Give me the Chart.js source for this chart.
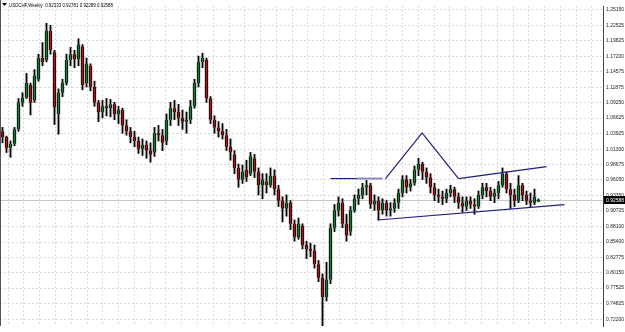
<!DOCTYPE html>
<html><head><meta charset="utf-8">
<script src="https://cdn.jsdelivr.net/npm/chart.js@4.4.1/dist/chart.umd.min.js"></script>
<style>html,body{margin:0;padding:0;background:#fff;overflow:hidden}canvas{display:block}</style>
</head><body>
<canvas id="c" width="625" height="332"></canvas>
<script>
const symbolTitle = 'USDCHF,Weekly';
const lastQuote = [0.92333, 0.92781, 0.92289, 0.92588];
const priceTicks = [1.25150,1.22525,1.19825,1.17200,1.14575,1.11875,1.09250,1.06625,1.03925,1.01300,0.98675,0.96050,0.93350,0.90725,0.88100,0.85400,0.82775,0.80150,0.77525,0.74825,0.72200];
const openP = [
1.0436,1.0337,1.0156,1.0222,1.0469,1.0931,1.1014,1.1228,1.0964,1.1327,
1.1690,1.1657,1.2152,1.1789,1.0733,1.1096,1.1261,1.1657,1.1756,1.1674,
1.1888,1.1261,1.1558,1.1195,1.0931,1.0766,1.0865,1.0832,1.0898,1.0733,
1.0799,1.0535,1.0436,1.0337,1.0271,1.0139,1.0205,1.0106,1.0073,1.0403,
1.0370,1.0271,1.0634,1.0832,1.0766,1.0667,1.0601,1.0634,1.0865,1.1261,
1.1624,1.1657,1.0997,1.0634,1.0502,1.0436,1.0370,1.0172,1.0040,0.9809,
0.9611,0.9776,0.9710,0.9974,0.9743,0.9512,0.9578,0.9512,0.9677,0.9446,
0.9248,0.9116,0.9215,0.8852,0.8621,0.8819,0.8489,0.8423,0.8390,0.8159,
0.7928,0.7598,0.7895,0.8786,0.9083,0.9215,0.8852,0.8720,0.9083,0.9281,
0.9347,0.9479,0.9512,0.9182,0.9248,0.9083,0.9215,0.9083,0.9116,0.9215,
0.9380,0.9611,0.9479,0.9545,0.9776,0.9875,0.9743,0.9644,0.9479,0.9347,
0.9314,0.9281,0.9380,0.9446,0.9314,0.9215,0.9149,0.9248,0.9182,0.9149,
0.9347,0.9479,0.9413,0.9314,0.9380,0.9512,0.9710,0.9446,0.9347,0.9248,
0.9512,0.9347,0.9248,0.9215,0.92333];
const highP = [
1.0502,1.0354,1.0271,1.0502,1.0997,1.1096,1.1426,1.1261,1.1492,1.1756,
1.1954,1.2284,1.2251,1.1822,1.1162,1.1327,1.1756,1.1872,1.1822,1.2020,
1.1921,1.1690,1.1591,1.1294,1.0964,1.0964,1.0997,1.0981,1.0931,1.0865,
1.0832,1.0634,1.0502,1.0436,1.0337,1.0304,1.0271,1.0238,1.0502,1.0535,
1.0469,1.0733,1.0931,1.0964,1.0898,1.0799,1.0766,1.0964,1.1327,1.1723,
1.1773,1.1690,1.1030,1.0700,1.0601,1.0568,1.0469,1.0304,1.0106,0.9875,
0.9859,0.9941,1.0073,1.0040,0.9809,0.9710,0.9710,0.9809,0.9776,0.9512,
0.9314,0.9347,0.9248,0.8918,0.8951,0.8852,0.8555,0.8522,0.8489,0.8225,
0.7994,0.8192,0.8852,0.9182,0.9314,0.9281,0.9017,0.9149,0.9347,0.9446,
0.9545,0.9595,0.9545,0.9347,0.9314,0.9281,0.9248,0.9215,0.9281,0.9446,
0.9677,0.9677,0.9611,0.9842,0.9974,0.9908,0.9809,0.9710,0.9545,0.9446,
0.9413,0.9446,0.9512,0.9479,0.9380,0.9314,0.9314,0.9314,0.9281,0.9413,
0.9545,0.9545,0.9479,0.9446,0.9578,0.9809,0.9743,0.9545,0.9446,0.9677,
0.9545,0.9413,0.9380,0.9446,0.92781];
const lowP = [
1.0238,1.0073,0.9991,1.0189,1.0436,1.0865,1.0997,1.0717,1.0931,1.1294,
1.1558,1.1624,1.1756,1.0552,1.0387,1.1030,1.1228,1.1558,1.1525,1.1558,
1.1146,1.1195,1.1129,1.0865,1.0601,1.0667,1.0700,1.0684,1.0634,1.0568,
1.0403,1.0370,1.0238,1.0172,1.0057,1.0024,0.9974,0.9908,1.0007,1.0271,
1.0106,1.0205,1.0535,1.0634,1.0535,1.0469,1.0403,1.0568,1.0832,1.1195,
1.1525,1.0931,1.0568,1.0403,1.0337,1.0304,1.0106,0.9941,0.9710,0.9479,
0.9545,0.9578,0.9677,0.9644,0.9347,0.9281,0.9380,0.9479,0.9347,0.9149,
0.8885,0.8984,0.8753,0.8555,0.8588,0.8423,0.8258,0.8291,0.8093,0.7862,
0.7070,0.7532,0.7829,0.8720,0.8984,0.8786,0.8555,0.8654,0.9050,0.9182,
0.9281,0.9347,0.9116,0.9083,0.8918,0.9017,0.8984,0.8984,0.9050,0.9116,
0.9314,0.9380,0.9413,0.9512,0.9677,0.9611,0.9545,0.9380,0.9248,0.9215,
0.9182,0.9215,0.9314,0.9215,0.9116,0.9050,0.9083,0.9116,0.9017,0.9116,
0.9281,0.9314,0.9248,0.9215,0.9281,0.9479,0.9380,0.9116,0.9149,0.9215,
0.9248,0.9182,0.9149,0.9182,0.92289];
const closeP = [
1.0337,1.0156,1.0222,1.0469,1.0931,1.1014,1.1261,1.0931,1.1393,1.1690,
1.1624,1.2152,1.1822,1.0849,1.1096,1.1261,1.1657,1.1756,1.1674,1.1921,
1.1228,1.1591,1.1195,1.0931,1.0766,1.0865,1.0832,1.0898,1.0733,1.0799,
1.0535,1.0436,1.0337,1.0271,1.0139,1.0205,1.0106,1.0040,1.0403,1.0370,
1.0238,1.0634,1.0832,1.0766,1.0667,1.0601,1.0634,1.0865,1.1261,1.1624,
1.1690,1.0997,1.0634,1.0502,1.0436,1.0370,1.0172,1.0073,0.9809,0.9611,
0.9743,0.9644,1.0007,0.9743,0.9512,0.9611,0.9512,0.9677,0.9446,0.9248,
0.9116,0.9215,0.8852,0.8621,0.8852,0.8489,0.8423,0.8390,0.8159,0.7928,
0.7598,0.7895,0.8786,0.9083,0.9215,0.8852,0.8654,0.9083,0.9281,0.9347,
0.9479,0.9512,0.9182,0.9248,0.9083,0.9215,0.9083,0.9116,0.9215,0.9380,
0.9611,0.9479,0.9545,0.9776,0.9875,0.9743,0.9644,0.9479,0.9347,0.9314,
0.9281,0.9380,0.9446,0.9314,0.9215,0.9149,0.9248,0.9182,0.9149,0.9347,
0.9479,0.9413,0.9314,0.9380,0.9512,0.9710,0.9446,0.9347,0.9248,0.9512,
0.9347,0.9248,0.9215,0.9314,0.92588];
// trend lines: [bar index, price]
const trendFlat = [[82, 0.9627], [88.75, 0.9627]];
const trendFlatLight = [[88.75, 0.9627], [95, 0.9627]];
const trendPeak = [[95.75, 0.9627], [104.9, 1.0408], [114, 0.9627]];
const trendUpper = [[114, 0.9627], [136, 0.9830]];
const trendLower = [[93.75, 0.8918], [140.5, 0.9182]];

const Y_MIN = 0.7103, Y_MAX = 1.2581;
const BULL = '#1d7a36', BEAR = '#a01c1c', NAVY = '#1e1e7e';
const idx = openP.map((_, i) => i);
const lineDs = (pts, color, w) => ({
  type: 'line', data: pts.map(p => ({x: p[0], y: p[1]})), borderColor: color,
  borderWidth: w, pointRadius: 0, fill: false, tension: 0, order: 1
});

const overlay = {
  id: 'overlay',
  beforeDatasetsDraw(chart) {
    const {ctx, chartArea: a, scales: {y}} = chart;
    const py = Math.round(y.getPixelForValue(lastQuote[3])) + 0.5;
    ctx.save();
    ctx.strokeStyle = '#c8c8c8'; ctx.lineWidth = 1;
    ctx.beginPath(); ctx.moveTo(a.left, py); ctx.lineTo(a.right, py); ctx.stroke();
    ctx.restore();
  },
  afterDraw(chart) {
    const {ctx, chartArea: a, scales: {y}} = chart;
    ctx.save();
    ctx.strokeStyle = '#555'; ctx.lineWidth = 1;
    ctx.beginPath(); ctx.moveTo(0.5, 0); ctx.lineTo(0.5, a.bottom); ctx.stroke();
    const py = Math.round(y.getPixelForValue(lastQuote[3]));
    ctx.fillStyle = '#000';
    ctx.fillRect(a.right + 1, py - 4, 625 - a.right - 1, 8);
    ctx.fillStyle = '#fff';
    ctx.font = '5px "Liberation Sans"';
    ctx.textBaseline = 'middle';
    ctx.fillText(lastQuote[3].toFixed(5), a.right + 3, py + 0.5);
    ctx.fillStyle = '#000';
    ctx.beginPath(); ctx.moveTo(2, 3); ctx.lineTo(7, 3); ctx.lineTo(4.5, 6); ctx.closePath(); ctx.fill();
    const title = symbolTitle + '  ' + lastQuote.map(v => v.toFixed(5)).join(' ');
    ctx.font = '6px "Liberation Sans"';
    const w = ctx.measureText(title).width;
    ctx.translate(9, 5);
    ctx.scale(104 / w, 1);
    ctx.fillText(title, 0, 0);
    ctx.restore();
  }
};

new Chart(document.getElementById('c'), {
  type: 'bar',
  data: { datasets: [
    { type: 'bar', data: idx.map(i => ({x: i, y: [lowP[i], highP[i]]})), backgroundColor: 'rgba(0,0,0,0.13)',
      barThickness: 3, grouped: false, order: 4 },
    { type: 'bar', data: idx.map(i => ({x: i, y: [lowP[i], highP[i]]})), backgroundColor: '#000',
      barThickness: 1, grouped: false, order: 3 },
    { type: 'bar', data: idx.map(i => ({x: i, y: [openP[i], closeP[i]]})),
      backgroundColor: c => closeP[c.dataIndex] >= openP[c.dataIndex] ? BULL : BEAR,
      borderColor: '#000', borderWidth: { left: 1, right: 1, top: 0, bottom: 0 }, borderSkipped: false,
      barThickness: 3, grouped: false, order: 2 },
    lineDs(trendFlat, NAVY, 1.2),
    lineDs(trendFlatLight, '#8a8ac6', 2),
    lineDs(trendPeak, NAVY, 1.2),
    lineDs(trendUpper, NAVY, 1.2),
    lineDs(trendLower, NAVY, 1.2)
  ]},
  options: {
    responsive: false, animation: false, devicePixelRatio: 1,
    layout: { padding: 0, autoPadding: false },
    plugins: { legend: { display: false }, tooltip: { enabled: false } },
    scales: {
      x: { type: 'linear', min: -0.625, max: 150.125, offset: false,
        afterBuildTicks: s => { const t = []; for (let k = 0; k < 38; k++) t.push({value: (16 + 15.78 * k) / 4 - 0.625}); s.ticks = t; },
        ticks: { display: false },
        grid: { color: '#d9d9d9', drawTicks: false, lineWidth: 1 },
        border: { display: false, dash: [2, 2] },
        afterFit: s => { s.height = 0; } },
      y: { type: 'linear', position: 'right', min: Y_MIN, max: Y_MAX,
        afterBuildTicks: s => { s.ticks = priceTicks.map(v => ({value: v})); },
        ticks: { autoSkip: false, padding: 3, color: '#222', font: { family: 'Liberation Sans', size: 5 },
          callback: v => Number(v).toFixed(5) },
        grid: { color: '#d9d9d9', drawTicks: false },
        border: { display: true, color: '#444', width: 1, dash: [2, 2] },
        afterFit: s => { s.width = 22; } }
    }
  },
  plugins: [overlay]
});
</script>
</body></html>
